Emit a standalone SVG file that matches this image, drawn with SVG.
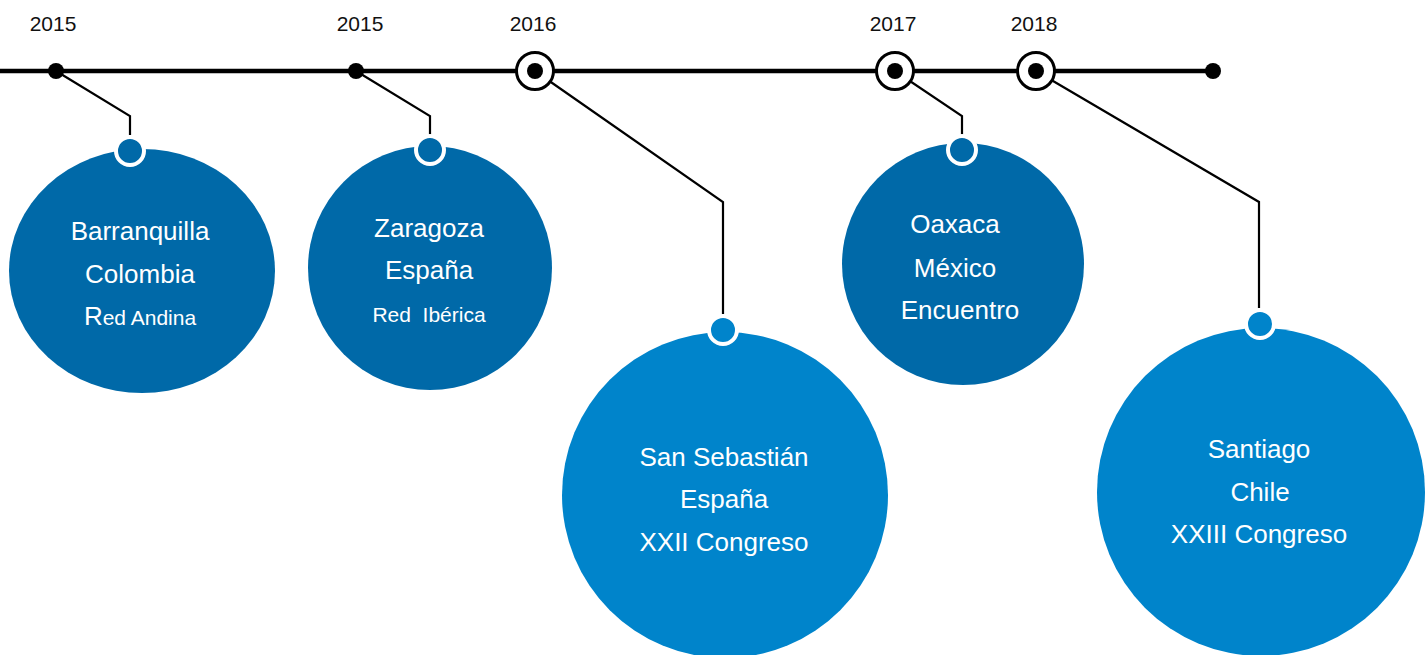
<svg xmlns="http://www.w3.org/2000/svg" width="1427" height="655" viewBox="0 0 1427 655">
<style>
.conn{fill:none;stroke:#000;stroke-width:2.2}
.axis{stroke:#000;stroke-width:4.5}
.dot{fill:#000}
.ring{fill:#fff;stroke:#000;stroke-width:3}
.yr{font-family:"Liberation Sans",Arial,sans-serif;font-size:21px;fill:#111;text-anchor:middle}
.dark{fill:#0069A8}
.light{fill:#0084CB}
.pin{stroke:#fff;stroke-width:4}
.t{font-family:"Liberation Sans",Arial,sans-serif;font-size:26px;fill:#fff;text-anchor:middle}
.s{font-size:21px}
</style>
<rect width="1427" height="655" fill="#fff"/>
<g id="connectors">
<polyline class="conn" points="56,71 130,116 130,135"/>
<polyline class="conn" points="356,71 430,116 430,135"/>
<polyline class="conn" points="535,71 723,202 723,314"/>
<polyline class="conn" points="895,71 962,116 962,135"/>
<polyline class="conn" points="1036,71 1259,202 1259,308"/>
</g>
<g id="timeline">
<line class="axis" x1="0" y1="71" x2="1213" y2="71"/>
<circle class="dot" cx="1213" cy="71" r="8"/>
</g>
<g id="y2015a">
<circle class="dot" cx="56" cy="71" r="8"/>
<text class="yr" x="53" y="31">2015</text>
</g>
<g id="y2015b">
<circle class="dot" cx="356" cy="71" r="8"/>
<text class="yr" x="360" y="31">2015</text>
</g>
<g id="y2016">
<circle class="ring" cx="535" cy="71" r="18.5"/>
<circle class="dot" cx="535" cy="71" r="8"/>
<text class="yr" x="533" y="31">2016</text>
</g>
<g id="y2017">
<circle class="ring" cx="895" cy="71" r="18.5"/>
<circle class="dot" cx="895" cy="71" r="8"/>
<text class="yr" x="893" y="31">2017</text>
</g>
<g id="y2018">
<circle class="ring" cx="1036" cy="71" r="18.5"/>
<circle class="dot" cx="1036" cy="71" r="8"/>
<text class="yr" x="1034" y="31">2018</text>
</g>
<g id="barranquilla">
<ellipse class="dark" cx="142" cy="271" rx="133" ry="122"/>
<circle class="dark pin" cx="130" cy="151" r="14"/>
<text class="t" x="140" y="240">Barranquilla</text>
<text class="t" x="140" y="283">Colombia</text>
<text class="t" x="140" y="325">R<tspan class="s">ed Andina</tspan></text>
</g>
<g id="zaragoza">
<circle class="dark" cx="430" cy="268" r="122"/>
<circle class="dark pin" cx="430" cy="150" r="14"/>
<text class="t" x="429" y="237">Zaragoza</text>
<text class="t" x="429" y="279">España</text>
<text class="t s" x="429" y="322" xml:space="preserve">Red  Ibérica</text>
</g>
<g id="sansebastian">
<circle class="light" cx="725" cy="495" r="163"/>
<circle class="light pin" cx="723" cy="330" r="14"/>
<text class="t" x="724" y="466">San Sebastián</text>
<text class="t" x="724" y="508">España</text>
<text class="t" x="724" y="551">XXII Congreso</text>
</g>
<g id="oaxaca">
<circle class="dark" cx="963" cy="264" r="121"/>
<circle class="dark pin" cx="962" cy="150" r="14"/>
<text class="t" x="955" y="233">Oaxaca</text>
<text class="t" x="955" y="277">México</text>
<text class="t" x="960" y="319">Encuentro</text>
</g>
<g id="santiago">
<circle class="light" cx="1261" cy="492" r="164"/>
<circle class="light pin" cx="1260" cy="324" r="14"/>
<text class="t" x="1259" y="458">Santiago</text>
<text class="t" x="1260" y="501">Chile</text>
<text class="t" x="1259" y="543">XXIII Congreso</text>
</g>
</svg>
